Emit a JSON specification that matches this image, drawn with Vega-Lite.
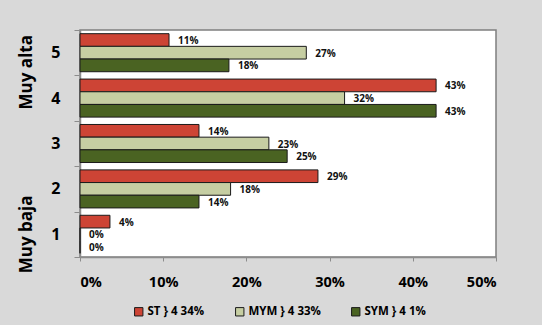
{
  "$schema": "https://vega.github.io/schema/vega-lite/v6.json",
  "width": 416,
  "height": 227,
  "autosize": {"type": "none"},
  "padding": {"left": 80, "top": 30, "right": 46, "bottom": 68},
  "background": "#d9d9d9",
  "config": {
    "font": "Open Sans",
    "view": {"stroke": "#7f7f7f", "strokeWidth": 1.5, "fill": "white"}
  },
  "datasets": {
    "bars": [
      {"cat": "5", "serie": "ST } 4 34%", "valor": 0.107},
      {"cat": "5", "serie": "MYM } 4 33%", "valor": 0.272},
      {"cat": "5", "serie": "SYM } 4 1%", "valor": 0.179},
      {"cat": "4", "serie": "ST } 4 34%", "valor": 0.428},
      {"cat": "4", "serie": "MYM } 4 33%", "valor": 0.318},
      {"cat": "4", "serie": "SYM } 4 1%", "valor": 0.428},
      {"cat": "3", "serie": "ST } 4 34%", "valor": 0.143},
      {"cat": "3", "serie": "MYM } 4 33%", "valor": 0.227},
      {"cat": "3", "serie": "SYM } 4 1%", "valor": 0.249},
      {"cat": "2", "serie": "ST } 4 34%", "valor": 0.286},
      {"cat": "2", "serie": "MYM } 4 33%", "valor": 0.181},
      {"cat": "2", "serie": "SYM } 4 1%", "valor": 0.143},
      {"cat": "1", "serie": "ST } 4 34%", "valor": 0.036},
      {"cat": "1", "serie": "MYM } 4 33%", "valor": 0.0},
      {"cat": "1", "serie": "SYM } 4 1%", "valor": 0.0}
    ],
    "alta": [{"grupo": "Muy alta", "cat": "5"}],
    "baja": [{"grupo": "Muy baja", "cat": "1"}]
  },
  "encoding": {
    "y": {
      "field": "cat",
      "type": "nominal",
      "scale": {"domain": ["5", "4", "3", "2", "1"], "paddingInner": 0, "paddingOuter": 0},
      "axis": {
        "title": null,
        "tickBand": "extent",
        "domainColor": "#8c8c8c",
        "domainWidth": 1.5,
        "tickColor": "#8c8c8c",
        "tickSize": 6,
        "labelFontSize": 16,
        "labelFontWeight": "bold",
        "labelColor": "#000000",
        "labelPadding": 14,
        "labelAngle": 0
      }
    }
  },
  "layer": [
    {
      "data": {"name": "bars"},
      "mark": {"type": "bar", "stroke": "#1a1a1a", "strokeWidth": 1},
      "encoding": {
        "yOffset": {
          "field": "serie",
          "type": "nominal",
          "sort": ["ST } 4 34%", "MYM } 4 33%", "SYM } 4 1%"],
          "scale": {"paddingInner": 0, "paddingOuter": 0.29}
        },
        "x": {
          "field": "valor",
          "type": "quantitative",
          "scale": {"domain": [0, 0.5], "nice": false},
          "axis": {
            "title": null,
            "values": [0, 0.1, 0.2, 0.3, 0.4, 0.5],
            "format": ".0%",
            "grid": false,
            "domainColor": "#8c8c8c",
            "domainWidth": 1.5,
            "tickColor": "#8c8c8c",
            "tickSize": 4,
            "labelFontSize": 14.5,
            "labelFontWeight": "bold",
            "labelColor": "#000000",
            "labelPadding": 14
          }
        },
        "color": {
          "field": "serie",
          "type": "nominal",
          "sort": ["ST } 4 34%", "MYM } 4 33%", "SYM } 4 1%"],
          "scale": {"range": ["#cd4435", "#c6cea2", "#4a6322"]},
          "legend": {
            "title": null,
            "orient": "none",
            "legendX": 53,
            "legendY": 276,
            "direction": "horizontal",
            "symbolType": "square",
            "symbolSize": 70,
            "symbolStrokeColor": "#1a1a1a",
            "symbolStrokeWidth": 1,
            "labelFontSize": 11.5,
            "labelFontWeight": "bold",
            "labelColor": "#000000",
            "columnPadding": 28,
            "labelOffset": 3
          }
        }
      }
    },
    {
      "data": {"name": "bars"},
      "mark": {"type": "text", "align": "left", "baseline": "middle", "dx": 9, "dy": 1, "fontSize": 10, "fontWeight": "bold", "color": "#111111"},
      "encoding": {
        "yOffset": {
          "field": "serie",
          "type": "nominal",
          "sort": ["ST } 4 34%", "MYM } 4 33%", "SYM } 4 1%"],
          "scale": {"paddingInner": 0, "paddingOuter": 0.29}
        },
        "x": {"field": "valor", "type": "quantitative"},
        "text": {"field": "valor", "type": "quantitative", "format": ".0%"}
      }
    },
    {
      "data": {"name": "alta"},
      "mark": {"type": "text", "angle": 270, "align": "center", "baseline": "middle", "fontSize": 17, "fontWeight": "bold", "color": "#000000"},
      "encoding": {
        "y": {"field": "cat", "type": "nominal", "bandPosition": 0.93},
        "x": {"datum": -0.064, "type": "quantitative"},
        "text": {"field": "grupo", "type": "nominal"}
      }
    },
    {
      "data": {"name": "baja"},
      "mark": {"type": "text", "angle": 270, "align": "center", "baseline": "middle", "fontSize": 17, "fontWeight": "bold", "color": "#000000"},
      "encoding": {
        "y": {"field": "cat", "type": "nominal", "bandPosition": 0.5},
        "x": {"datum": -0.064, "type": "quantitative"},
        "text": {"field": "grupo", "type": "nominal"}
      }
    }
  ]
}
